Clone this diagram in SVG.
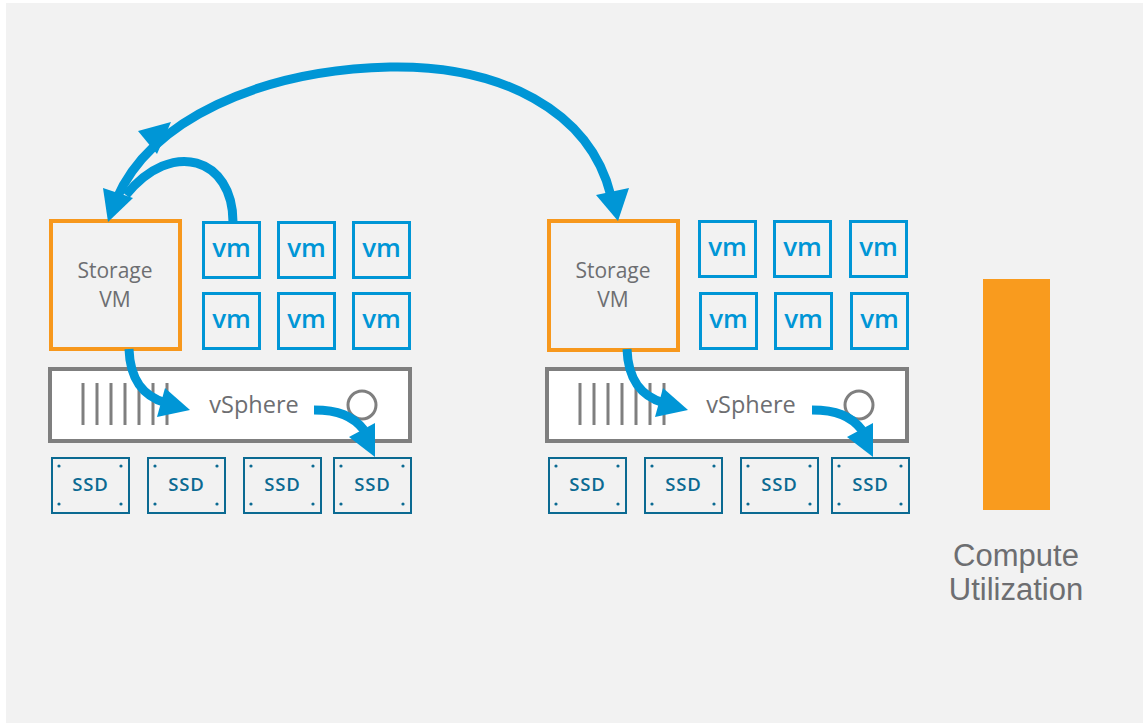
<svg xmlns="http://www.w3.org/2000/svg" width="1143" height="723" viewBox="0 0 1143 723">
<style>
.bg{fill:#f2f2f2}
.svm{fill:#f2f2f2;stroke:#f7981d;stroke-width:4}
.svmt{font-family:"Open Sans","DejaVu Sans",sans-serif;font-size:21px;fill:#6d6e71;text-anchor:middle}
.vm{fill:none;stroke:#0096d6;stroke-width:3}
.vmt{font-family:"Open Sans","DejaVu Sans",sans-serif;font-weight:600;font-size:26px;fill:#0096d6;text-anchor:middle}
.bar{fill:#ffffff;stroke:#7f7f7f;stroke-width:4}
.tick{stroke:#7f7f7f;stroke-width:3}
.led{fill:none;stroke:#7f7f7f;stroke-width:3}
.vst{font-family:"Open Sans","DejaVu Sans",sans-serif;font-size:23.5px;fill:#6d6e71;text-anchor:middle}
.ssd{fill:none;stroke:#0b6a92;stroke-width:2}
.dot{fill:#0b6a92}
.ssdt{font-family:"Open Sans","DejaVu Sans",sans-serif;font-weight:600;font-size:18.5px;letter-spacing:0.8px;fill:#0b6a92;text-anchor:middle}
.conn{fill:none;stroke:#0096d6;stroke-width:9}
.head{fill:#0096d6}
.cut{font-family:"Liberation Sans",Arial,sans-serif;font-size:31px;fill:#6d6e71;text-anchor:middle}
</style>
<defs>
<g id="ssdbox">
<rect class="ssd" x="1" y="1" width="77" height="55"/>
<circle class="dot" cx="8" cy="9" r="1.6"/>
<circle class="dot" cx="70" cy="9" r="1.6"/>
<circle class="dot" cx="8" cy="47" r="1.6"/>
<circle class="dot" cx="70" cy="47" r="1.6"/>
<text class="ssdt" x="39.5" y="34">SSD</text>
</g>
<g id="vmbox">
<rect class="vm" x="1.5" y="1.5" width="56" height="55"/>
<text class="vmt" x="29.5" y="36">vm</text>
</g>
<g id="vsbar">
<rect class="bar" x="50" y="369" width="360" height="72"/>
<line class="tick" x1="83" y1="383" x2="83" y2="425"/>
<line class="tick" x1="97" y1="383" x2="97" y2="425"/>
<line class="tick" x1="111" y1="383" x2="111" y2="425"/>
<line class="tick" x1="125" y1="383" x2="125" y2="425"/>
<line class="tick" x1="139" y1="383" x2="139" y2="425"/>
<line class="tick" x1="153" y1="383" x2="153" y2="425"/>
<line class="tick" x1="167" y1="383" x2="167" y2="425"/>
<circle class="led" cx="362" cy="405" r="14"/>
<text class="vst" x="254" y="413">vSphere</text>
</g>
</defs>
<rect class="bg" x="6" y="3" width="1137" height="720"/>

<g id="host1">
<g id="storage-vm-1"><rect class="svm" x="51" y="221" width="129" height="128"/><text class="svmt" x="115" y="278">Storage</text><text class="svmt" x="115" y="307">VM</text></g>
<g id="vm-1-1"><use href="#vmbox" x="202" y="221"/></g>
<g id="vm-1-2"><use href="#vmbox" x="277" y="221"/></g>
<g id="vm-1-3"><use href="#vmbox" x="352" y="221"/></g>
<g id="vm-1-4"><use href="#vmbox" x="202" y="292"/></g>
<g id="vm-1-5"><use href="#vmbox" x="277" y="292"/></g>
<g id="vm-1-6"><use href="#vmbox" x="352" y="292"/></g>
<g id="vsphere-1"><use href="#vsbar"/></g>
<g id="ssd-1-1"><use href="#ssdbox" x="51" y="457"/></g>
<g id="ssd-1-2"><use href="#ssdbox" x="147" y="457"/></g>
<g id="ssd-1-3"><use href="#ssdbox" x="243" y="457"/></g>
<g id="ssd-1-4"><use href="#ssdbox" x="333" y="457"/></g>
</g>

<g id="host2">
<g id="storage-vm-2"><rect class="svm" x="549" y="221" width="129" height="129"/><text class="svmt" x="613" y="278">Storage</text><text class="svmt" x="613" y="307">VM</text></g>
<g id="vm-2-1"><use href="#vmbox" x="698" y="220"/></g>
<g id="vm-2-2"><use href="#vmbox" x="773" y="220"/></g>
<g id="vm-2-3"><use href="#vmbox" x="849" y="220"/></g>
<g id="vm-2-4"><use href="#vmbox" x="699" y="292"/></g>
<g id="vm-2-5"><use href="#vmbox" x="774" y="292"/></g>
<g id="vm-2-6"><use href="#vmbox" x="850" y="292"/></g>
<g id="vsphere-2"><use href="#vsbar" x="497"/></g>
<g id="ssd-2-1"><use href="#ssdbox" x="548" y="457"/></g>
<g id="ssd-2-2"><use href="#ssdbox" x="644" y="457"/></g>
<g id="ssd-2-3"><use href="#ssdbox" x="740" y="457"/></g>
<g id="ssd-2-4"><use href="#ssdbox" x="831" y="457"/></g>
</g>

<g id="compute-utilization">
<rect x="983" y="279" width="67" height="231" fill="#f99b1e"/>
<text class="cut" x="1016" y="566">Compute</text>
<text class="cut" x="1016" y="600">Utilization</text>
</g>

<g id="connectors">
<path class="conn" d="M116 200 C150 120 260 70 390 67 C500 65 590 110 611 196"/>
<polygon class="head" points="596,195 629,188 618,221"/>
<polygon class="head" points="103,188 133,198 108,222"/>
<polygon class="head" points="138,131 157,154 171,122"/>
<path class="conn" d="M233 222 C233 158 172 138 126 195"/>
<path class="conn" d="M129 349 C130 380 143 396 166 403"/>
<polygon class="head" points="165,388 190,410 157,417"/>
<path class="conn" d="M314 410 C338 410 353 416 364 430"/>
<polygon class="head" points="349,437 375,423 375,457"/>
<path class="conn" d="M627 349 C628 380 641 396 664 403"/>
<polygon class="head" points="663,388 688,410 655,417"/>
<path class="conn" d="M812 410 C836 410 851 416 862 430"/>
<polygon class="head" points="847,437 873,423 873,457"/>
</g>
</svg>
